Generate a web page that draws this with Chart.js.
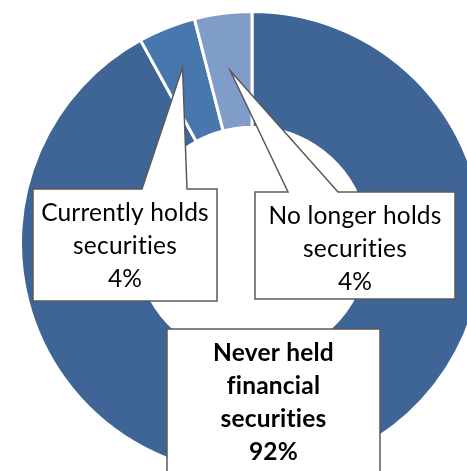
<!DOCTYPE html>
<html>
<head>
<meta charset="utf-8">
<script src="https://cdn.jsdelivr.net/npm/chart.js@4/dist/chart.umd.min.js"></script>
<style>
  html, body { margin: 0; padding: 0; background: #fff; overflow: hidden; width: 467px; height: 471px; }
  #wrap { position: absolute; left: 19px; top: 10px; width: 466px; height: 466px; }
</style>
</head>
<body>
<div id="wrap"><canvas id="chartValores" width="466" height="466"></canvas></div>
<script>
const categorias = ['Never held financial securities', 'Currently holds securities', 'No longer holds securities']
const porcentajes = [92, 4, 4]
const colores = ['#3e6596', '#4877ad', '#7f9dc8']
// lines of text for each callout
const etiquetas = [
  ['Never held', 'financial', 'securities', '92%'],
  ['Currently holds', 'securities', '4%'],
  ['No longer holds', 'securities', '4%']
]

// callout boxes, page coords (canvas is shifted 19,10)
const OX = 19, OY = 10
const cajas = [
  { x: 167, y: 329, w: 213, h: 160, bold: true, base: null, frac: 0 },
  { x: 33, y: 189, w: 184, h: 112, bold: false, base: [142, 187], frac: 0.63 },
  { x: 255, y: 192, w: 200, h: 107, bold: false, base: [288, 338], frac: 0.5 }
]

const fuente = 'Lato, "Open Sans", sans-serif'

const callouts = {
  id: 'callouts',
  afterDatasetsDraw(chart) {
    const ctx = chart.ctx
    const arcs = chart.getDatasetMeta(0).data
    ctx.save()
    ctx.translate(-OX, -OY)
    cajas.forEach((c, i) => {
      const a = arcs[i].getProps(['x', 'y', 'startAngle', 'endAngle', 'innerRadius', 'outerRadius'], true)
      ctx.beginPath()
      ctx.moveTo(c.x, c.y)
      if (c.base) {
        const ang = (a.startAngle + a.endAngle) / 2
        const r = a.innerRadius + (a.outerRadius - a.innerRadius) * c.frac
        const tx = a.x + OX + Math.cos(ang) * r
        const ty = a.y + OY + Math.sin(ang) * r
        ctx.lineTo(c.base[0], c.y)
        ctx.lineTo(tx, ty)
        ctx.lineTo(c.base[1], c.y)
      }
      ctx.lineTo(c.x + c.w, c.y)
      ctx.lineTo(c.x + c.w, c.y + c.h)
      ctx.lineTo(c.x, c.y + c.h)
      ctx.closePath()
      ctx.fillStyle = '#ffffff'
      ctx.fill()
      ctx.lineWidth = 1.5
      ctx.strokeStyle = '#595959'
      ctx.stroke()

      ctx.fillStyle = '#000000'
      ctx.textAlign = 'center'
      ctx.textBaseline = 'middle'
      ctx.font = (c.bold ? 'bold ' : '') + '24.5px ' + fuente
      // tiny spacing keeps the "ti" pairs from joining into a ligature
      ctx.letterSpacing = '0.2px'
      const cx = c.x + c.w / 2
      const top = c.y + 24
      etiquetas[i].forEach((t, k) => {
        ctx.fillText(t, cx, top + k * 33)
      })
    })
    ctx.restore()
  }
}

new Chart(document.getElementById('chartValores'), {
  type: 'doughnut',
  data: {
    labels: categorias,
    datasets: [{
      data: porcentajes,
      backgroundColor: colores,
      borderColor: '#ffffff',
      borderWidth: 3
    }]
  },
  options: {
    responsive: false,
    animation: false,
    cutout: '50%',
    layout: { padding: 0 },
    plugins: {
      legend: { display: false },
      tooltip: { enabled: false }
    }
  },
  plugins: [callouts]
})
</script>
</body>
</html>
